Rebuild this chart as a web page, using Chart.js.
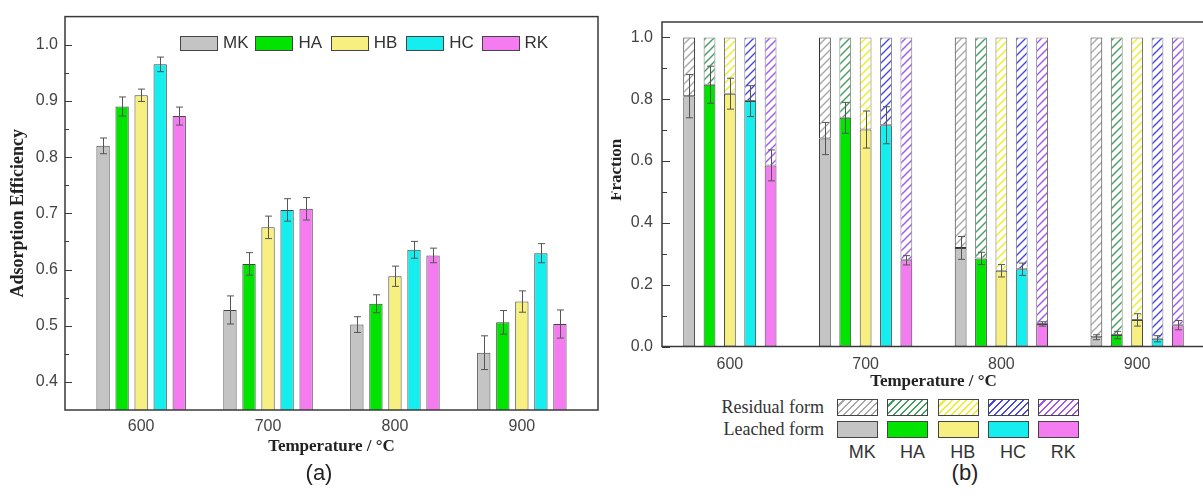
<!DOCTYPE html>
<html lang="en">
<head>
<meta charset="UTF-8">
<title>Adsorption efficiency and leached fraction vs temperature</title>
<script src="https://cdn.jsdelivr.net/npm/chart.js"></script>
<style>
  body {
    margin: 0;
    width: 1203px;
    height: 499px;
    overflow: hidden;
    position: relative;
    background: #fff;
    font-family: "Liberation Sans", Arial, sans-serif;
    color: #333;
  }
  canvas { position: absolute; top: 0; }
  #chartA { left: 0; }
  #chartB { left: 600px; }

  .legend-a {
    position: absolute;
    left: 180px;
    top: 35px;
    display: flex;
    font-size: 17px;
    line-height: 16px;
  }
  .legend-a .item { width: 75.4px; display: flex; align-items: center; }
  .legend-a .box { width: 36px; height: 13px; border: 1px solid #444; margin-right: 5px; }

  .legend-b {
    position: absolute;
    left: 700px;
    top: 396px;
  }
  .legend-b .row { display: flex; align-items: center; height: 22.5px; }
  .legend-b .name {
    width: 124px;
    text-align: right;
    padding-right: 13px;
    font-family: "Liberation Serif", "Times New Roman", serif;
    font-size: 18px;
  }
  .legend-b .box { width: 39px; height: 15px; border: 1px solid #444; margin-right: 9.3px; }
  .legend-b .label { width: 50.3px; text-align: center; font-size: 18px; }

  .ytitle-b {
    position: absolute;
    left: 611px;
    top: 100px;
    width: 20px;
    height: 140px;
    overflow: hidden;
  }
  .ytitle-b span {
    position: absolute;
    left: -5px;
    top: 0;
    width: 17px;
    height: 140px;
    writing-mode: vertical-rl;
    transform: rotate(180deg);
    text-align: center;
    line-height: 17px;
    font: bold 17px "Liberation Serif", "Times New Roman", serif;
    color: #222;
  }
  .panel-tag {
    position: absolute;
    top: 460px;
    font-size: 22px;
    line-height: 26px;
    color: #222;
    transform: translateX(-50%);
  }
</style>
</head>
<body>
<canvas id="chartA" width="600" height="461"></canvas>
<canvas id="chartB" width="606" height="396"></canvas>

<div class="legend-a" id="legendA"></div>
<div class="ytitle-b"><span>Fraction</span></div>
<div class="legend-b" id="legendB"></div>
<div class="panel-tag" style="left:319px">(a)</div>
<div class="panel-tag" style="left:965px">(b)</div>

<script>
// ---- data ----
const temperatures = [600, 700, 800, 900];
const samples = ['MK', 'HA', 'HB', 'HC', 'RK'];

// (a) adsorption efficiency and error
const effMK = [0.820, 0.528, 0.502, 0.452];
const effHA = [0.890, 0.610, 0.539, 0.506];
const effHB = [0.910, 0.675, 0.588, 0.543];
const effHC = [0.965, 0.706, 0.635, 0.629];
const effRK = [0.873, 0.708, 0.625, 0.503];
const effErrMK = [0.014, 0.025, 0.014, 0.030];
const effErrHA = [0.017, 0.020, 0.016, 0.021];
const effErrHB = [0.011, 0.020, 0.018, 0.019];
const effErrHC = [0.013, 0.020, 0.015, 0.017];
const effErrRK = [0.016, 0.020, 0.013, 0.025];
const effTicks = [0.40, 0.45, 0.50, 0.55, 0.60, 0.65, 0.70, 0.75, 0.80, 0.85, 0.90, 0.95, 1.00];

// (b) leached form / residual form fractions
const leachMK = [0.810, 0.673, 0.319, 0.030];
const leachHA = [0.847, 0.740, 0.285, 0.037];
const leachHB = [0.818, 0.702, 0.245, 0.086];
const leachHC = [0.794, 0.716, 0.250, 0.025];
const leachRK = [0.586, 0.279, 0.073, 0.069];
const leachErrMK = [0.070, 0.052, 0.037, 0.008];
const leachErrHA = [0.060, 0.050, 0.020, 0.012];
const leachErrHB = [0.050, 0.060, 0.020, 0.020];
const leachErrHC = [0.050, 0.060, 0.020, 0.010];
const leachErrRK = [0.050, 0.015, 0.007, 0.015];
const residMK = [0.190, 0.327, 0.681, 0.970];
const residHA = [0.153, 0.260, 0.715, 0.963];
const residHB = [0.182, 0.298, 0.755, 0.914];
const residHC = [0.206, 0.284, 0.750, 0.975];
const residRK = [0.414, 0.721, 0.927, 0.931];
const fracTicks = [0, 0.1, 0.2, 0.3, 0.4, 0.5, 0.6, 0.7, 0.8, 0.9, 1.0];

// ---- styles ----
const fills = ['#c4c4c4', '#00e400', '#f7f080', '#14eeee', '#f57cf0'];
const hatchColors = ['#a8a8a8', '#3f9f5c', '#eeee22', '#4646e6', '#a452f0'];

const sansFont = '"Liberation Sans", Arial, sans-serif';
const serifFont = '"Liberation Serif", "Times New Roman", serif';

function hatch(color) {
  const c = document.createElement('canvas');
  c.width = 8; c.height = 8;
  const g = c.getContext('2d');
  g.fillStyle = '#fff';
  g.fillRect(0, 0, 8, 8);
  g.strokeStyle = color;
  g.lineWidth = 1.4;
  g.beginPath();
  g.moveTo(0, 8); g.lineTo(8, 0);
  g.moveTo(-2, 2); g.lineTo(2, -2);
  g.moveTo(6, 10); g.lineTo(10, 6);
  g.stroke();
  return g.createPattern(c, 'repeat');
}

// error bars drawn at each bar's parsed value, through the y scale
const errorBars = {
  id: 'errorBars',
  afterDatasetsDraw(chart) {
    const ctx = chart.ctx;
    const y = chart.scales.y;
    ctx.save();
    ctx.strokeStyle = '#555';
    ctx.lineWidth = 1;
    chart.data.datasets.forEach((ds, di) => {
      if (!ds.errors) return;
      const meta = chart.getDatasetMeta(di);
      meta.data.forEach((bar, i) => {
        const v = meta.controller.getParsed(i).y;
        const e = ds.errors[i];
        const x = Math.round(bar.x) + 0.5;
        const top = y.getPixelForValue(v + e);
        const bot = y.getPixelForValue(v - e);
        ctx.beginPath();
        ctx.moveTo(x, top); ctx.lineTo(x, bot);
        ctx.moveTo(x - 3.5, top); ctx.lineTo(x + 3.5, top);
        ctx.moveTo(x - 3.5, bot); ctx.lineTo(x + 3.5, bot);
        ctx.stroke();
      });
    });
    ctx.restore();
  }
};

// box frame + inward ticks on the left axis
const frame = {
  id: 'frame',
  afterDraw(chart, args, opts) {
    const { ctx, chartArea: a } = chart;
    const y = chart.scales.y;
    ctx.save();
    ctx.strokeStyle = '#3a3a3a';
    ctx.lineWidth = 1.5;
    ctx.strokeRect(a.left, a.top, a.right - a.left, a.bottom - a.top);
    ctx.lineWidth = 1;
    y.ticks.forEach(t => {
      const py = Math.round(y.getPixelForValue(t.value)) + 0.5;
      const len = isMajor(t.value, opts.major) ? opts.majorLen : opts.minorLen;
      ctx.beginPath();
      ctx.moveTo(a.left, py);
      ctx.lineTo(a.left + len, py);
      ctx.stroke();
    });
    ctx.restore();
  }
};

function isMajor(v, step) {
  const r = v / step;
  return Math.abs(r - Math.round(r)) < 1e-6;
}

// ---- (a) grouped bars ----
const effSeries = [effMK, effHA, effHB, effHC, effRK];
const effErrs = [effErrMK, effErrHA, effErrHB, effErrHC, effErrRK];

new Chart(document.getElementById('chartA'), {
  type: 'bar',
  data: {
    datasets: samples.map((s, k) => ({
      label: s,
      data: temperatures.map((t, i) => ({ x: t, y: effSeries[k][i] })),
      errors: effErrs[k],
      backgroundColor: fills[k],
      borderColor: '#444',
      borderWidth: 1,
      borderSkipped: false,
      categoryPercentage: 0.75,
      barPercentage: 0.70
    }))
  },
  options: {
    responsive: false,
    animation: false,
    devicePixelRatio: 1,
    layout: { padding: { top: 12, right: 2, bottom: 0, left: 4 } },
    plugins: {
      legend: { display: false },
      tooltip: { enabled: false },
      frame: { major: 0.1, majorLen: 7, minorLen: 4 }
    },
    scales: {
      x: {
        type: 'linear',
        min: 540,
        max: 960,
        offset: false,
        grid: { display: false, drawTicks: false },
        border: { display: false },
        afterBuildTicks: s => { s.ticks = temperatures.map(v => ({ value: v })); },
        afterFit: s => { s.height = 51; },
        ticks: {
          padding: 7,
          color: '#444',
          font: { family: sansFont, size: 16 },
          callback: v => String(v)
        },
        title: {
          display: true,
          text: 'Temperature / °C',
          color: '#222',
          font: { family: serifFont, size: 17, weight: 'bold' }
        }
      },
      y: {
        min: 0.35,
        max: 1.05,
        grid: { display: false, drawTicks: false },
        border: { display: false },
        afterBuildTicks: s => { s.ticks = effTicks.map(v => ({ value: v })); },
        afterFit: s => { s.width = 61; },
        ticks: {
          padding: 7,
          color: '#444',
          autoSkip: false,
          font: { family: sansFont, size: 16 },
          callback: v => isMajor(v, 0.1) ? v.toFixed(1) : ''
        },
        title: {
          display: true,
          text: 'Adsorption Efficiency',
          color: '#222',
          font: { family: serifFont, size: 18, weight: 'bold' }
        }
      }
    }
  },
  plugins: [errorBars, frame]
});

// ---- (b) stacked leached / residual ----
const leachSeries = [leachMK, leachHA, leachHB, leachHC, leachRK];
const leachErrs = [leachErrMK, leachErrHA, leachErrHB, leachErrHC, leachErrRK];
const residSeries = [residMK, residHA, residHB, residHC, residRK];

const leachedSets = samples.map((s, k) => ({
  label: 'Leached form ' + s,
  stack: s,
  data: leachSeries[k],
  errors: leachErrs[k],
  backgroundColor: fills[k],
  borderColor: '#444',
  borderWidth: 1,
  borderSkipped: false,
  categoryPercentage: 0.75,
  barPercentage: 0.58
}));
const residualSets = samples.map((s, k) => ({
  label: 'Residual form ' + s,
  stack: s,
  data: residSeries[k],
  backgroundColor: hatch(hatchColors[k]),
  borderColor: k === 0 ? '#333' : '#777',
  borderWidth: 1,
  borderSkipped: false,
  categoryPercentage: 0.75,
  barPercentage: 0.58
}));

new Chart(document.getElementById('chartB'), {
  type: 'bar',
  data: {
    labels: temperatures.map(String),
    datasets: leachedSets.concat(residualSets)
  },
  options: {
    responsive: false,
    animation: false,
    devicePixelRatio: 1,
    layout: { padding: { top: 22, right: 1, bottom: 0, left: 0 } },
    plugins: {
      legend: { display: false },
      tooltip: { enabled: false },
      frame: { major: 0.2, majorLen: 8, minorLen: 5 }
    },
    scales: {
      x: {
        stacked: true,
        grid: { display: false, drawTicks: false },
        border: { display: false },
        afterFit: s => { s.height = 49.5; },
        ticks: {
          padding: 8,
          color: '#444',
          font: { family: sansFont, size: 16 }
        },
        title: {
          display: true,
          text: 'Temperature / °C',
          color: '#222',
          font: { family: serifFont, size: 17, weight: 'bold' }
        }
      },
      y: {
        stacked: true,
        min: 0,
        max: 1.05,
        grid: { display: false, drawTicks: false },
        border: { display: false },
        afterBuildTicks: s => { s.ticks = fracTicks.map(v => ({ value: v })); },
        afterFit: s => { s.width = 62; },
        ticks: {
          padding: 9,
          color: '#444',
          autoSkip: false,
          font: { family: sansFont, size: 16 },
          callback: v => isMajor(v, 0.2) ? v.toFixed(1) : ''
        }
      }
    }
  },
  plugins: [errorBars, frame]
});

// ---- HTML legends ----
const legendA = document.getElementById('legendA');
samples.forEach((s, k) => {
  const item = document.createElement('div');
  item.className = 'item';
  item.innerHTML = '<span class="box" style="background:' + fills[k] + '"></span><span>' + s + '</span>';
  legendA.appendChild(item);
});

const legendB = document.getElementById('legendB');
function legendRow(name, styleFor) {
  const row = document.createElement('div');
  row.className = 'row';
  row.innerHTML = '<span class="name">' + name + '</span>' +
    samples.map((s, k) => '<span class="box" style="' + styleFor(k) + '"></span>').join('');
  legendB.appendChild(row);
}
legendRow('Residual form', k =>
  'background:repeating-linear-gradient(135deg,#fff 0 3.5px,' + hatchColors[k] + ' 3.5px 5px)');
legendRow('Leached form', k => 'background:' + fills[k]);
const labelRow = document.createElement('div');
labelRow.className = 'row';
labelRow.innerHTML = '<span class="name"></span>' +
  samples.map(s => '<span class="label">' + s + '</span>').join('');
legendB.appendChild(labelRow);
</script>
</body>
</html>
